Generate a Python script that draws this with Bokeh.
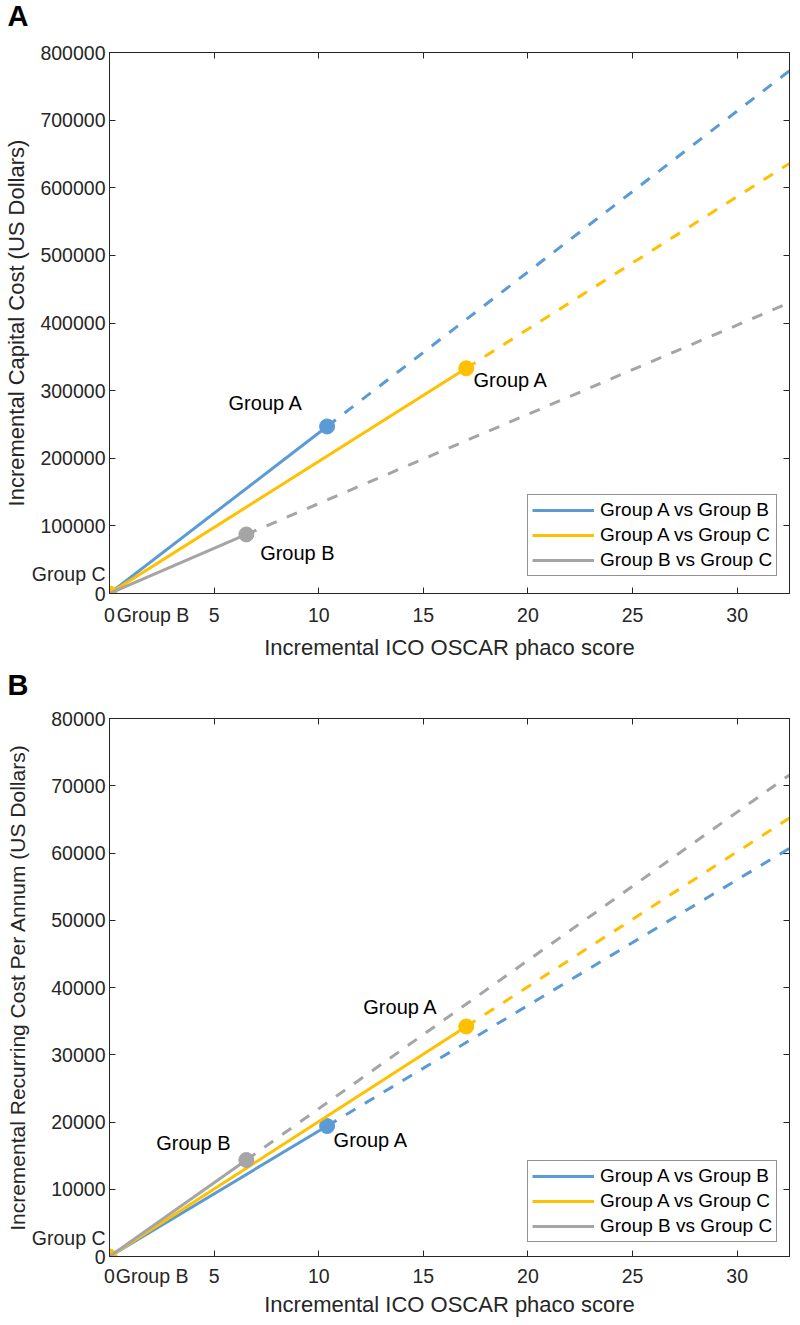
from bokeh.plotting import figure
from bokeh.models import (LinearAxis, Range1d, Label, Legend, LegendItem,
                          FixedTicker, BasicTickFormatter)
from bokeh.layouts import column
from bokeh.embed import file_html
from bokeh.resources import INLINE

# ---------------- data ----------------
series_names = ["Group A vs Group B", "Group A vs Group C", "Group B vs Group C"]
colors = ["#5B9BD5", "#FFC000", "#A5A5A5"]
x_origin = 0.0
x_point = [10.4, 17.05, 6.54]          # incremental ICO OSCAR phaco score
x_end = 32.5
capital_point = [247000, 333000, 87300]
capital_end = [773000, 636000, 430000]
recurring_point = [19400, 34200, 14350]
recurring_end = [60700, 65200, 71600]
x_ticks = [0, 5, 10, 15, 20, 25, 30]
capital_ticks = [0, 100000, 200000, 300000, 400000, 500000, 600000, 700000, 800000]
recurring_ticks = [0, 10000, 20000, 30000, 40000, 50000, 60000, 70000, 80000]

# annotation texts inside the plot (text, x, y, align) in data units
capital_labels = [("Group A", 5.69, 281000, "left"),
                  ("Group A", 17.4, 316000, "left"),
                  ("Group B", 7.2, 60600, "left")]
recurring_labels = [("Group A", 12.13, 37100, "left"),
                    ("Group A", 10.71, 17300, "left"),
                    ("Group B", 2.23, 16860, "left")]
# origin texts: "Group C" left of the y axis, "Group B" under the x axis
capital_group_c_y = 28100
recurring_group_c_y = 2810
capital_group_b_x = 2.08
recurring_group_b_x = 2.04

FONT = "Liberation Sans"
AX = "#262626"


def tick_axis(p, side, ticks):
    """Axis line with inward ticks only (no labels)."""
    a = LinearAxis(ticker=FixedTicker(ticks=ticks))
    a.major_tick_in = 6
    a.major_tick_out = 0
    a.minor_tick_line_color = None
    a.axis_line_color = AX
    a.major_tick_line_color = AX
    a.major_label_text_font_size = "0px"
    a.major_label_text_color = None
    a.major_label_standoff = 0
    p.add_layout(a, side)


def label_axis(p, side, ticks, extra_tick, extra_text, label, label_size,
               tick_standoff, label_standoff):
    """Axis carrying the tick labels, the axis title and one extra origin text."""
    a = LinearAxis(ticker=FixedTicker(ticks=ticks + [extra_tick]),
                   major_label_overrides={extra_tick: extra_text},
                   formatter=BasicTickFormatter(use_scientific=False))
    a.axis_line_color = None
    a.major_tick_line_color = None
    a.minor_tick_line_color = None
    a.major_tick_in = 0
    a.major_tick_out = 0
    a.major_label_standoff = tick_standoff
    a.major_label_text_font = FONT
    a.major_label_text_font_size = "19.5px"
    a.major_label_text_color = AX
    a.axis_label = label
    a.axis_label_text_font = FONT
    a.axis_label_text_font_size = label_size
    a.axis_label_text_font_style = "normal"
    a.axis_label_text_color = AX
    a.axis_label_standoff = label_standoff
    p.add_layout(a, side)


def make_panel(letter, ylabel, y_point, y_end, y_ticks, ymax, labels, gc_y, gb_x,
               height, top, bottom, ylab_size, x_standoffs, legend_bottom, letter_y):
    p = figure(width=792, height=height, output_backend="svg", toolbar_location=None,
               x_range=Range1d(0, x_end), y_range=Range1d(0, ymax),
               x_axis_location=None, y_axis_location=None,
               min_border_left=103, min_border_right=3,
               min_border_top=top, min_border_bottom=bottom)
    p.grid.visible = False
    p.outline_line_color = AX
    p.outline_line_width = 1
    p.background_fill_color = "white"

    # inner tick-only axes on all four sides (box with inward ticks)
    tick_axis(p, "below", x_ticks)
    tick_axis(p, "left", y_ticks)
    tick_axis(p, "above", x_ticks)
    tick_axis(p, "right", y_ticks)
    # labelled axes just outside them
    label_axis(p, "below", x_ticks, gb_x, "Group B",
               "Incremental ICO OSCAR phaco score", "22px", x_standoffs[0], x_standoffs[1])
    label_axis(p, "left", y_ticks, gc_y, "Group C", ylabel, ylab_size, 4, 0)

    solid = []
    for i in range(3):
        r = p.line([x_origin, x_point[i]], [0, y_point[i]], line_color=colors[i],
                   line_width=3)
        p.line([x_point[i], x_end], [y_point[i], y_end[i]], line_color=colors[i],
               line_width=3, line_dash="11 11")
        p.scatter([x_point[i]], [y_point[i]], size=15, fill_color=colors[i],
                  line_color=colors[i])
        if i == 1:
            p.scatter([x_origin], [0], size=15, fill_color=colors[i], line_color=colors[i])
        solid.append(r)

    legend = Legend(items=[LegendItem(label=series_names[i], renderers=[solid[i]])
                           for i in range(3)],
                    location=(418, legend_bottom))
    legend.label_text_font = FONT
    legend.label_text_font_size = "19px"
    legend.label_text_color = "black"
    legend.glyph_width = 62
    legend.glyph_height = 22
    legend.label_height = 22
    legend.spacing = 3
    legend.padding = 4
    legend.margin = 0
    legend.label_standoff = 6
    legend.border_line_color = AX
    legend.border_line_width = 1
    legend.background_fill_alpha = 1
    p.add_layout(legend, "center")

    for txt, x, y, al in labels:
        p.add_layout(Label(x=x, y=y, text=txt, text_align=al, text_baseline="middle",
                           text_font=FONT, text_font_size="20px", text_color="black"))

    # panel letter, in the top margin (not clipped there)
    p.add_layout(Label(x=-4.88, y=letter_y, text=letter, text_align="left",
                       text_baseline="top", text_font=FONT, text_font_size="29px",
                       text_font_style="bold", text_color="black"), "above")
    return p


pa = make_panel("A", "Incremental Capital Cost (US Dollars)", capital_point, capital_end,
                capital_ticks, 800000, capital_labels, capital_group_c_y, capital_group_b_x,
                668, 52, 75, "22px", (10, 6), 17, 877000)
pb = make_panel("B", "Incremental Recurring Cost Per Annum (US Dollars)", recurring_point,
                recurring_end, recurring_ticks, 80000, recurring_labels, recurring_group_c_y,
                recurring_group_b_x, 651, 50, 60, "21px", (8, 2), 14, 87300)

layout = column(pa, pb, spacing=0)
open("out.html", "w").write(file_html(layout, INLINE))
